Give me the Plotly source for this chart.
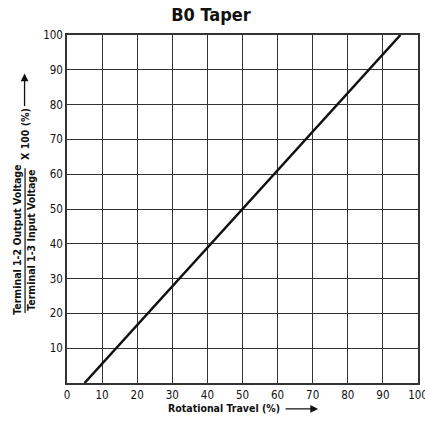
import plotly.graph_objects as go

# Data
travel = [5, 95]          # Rotational Travel (%)
output = [0, 100]         # Output ratio x 100 (%)
x_ticks = [0, 10, 20, 30, 40, 50, 60, 70, 80, 90, 100]
y_ticks = [10, 20, 30, 40, 50, 60, 70, 80, 90, 100]
title_text = "B0 Taper"
x_title = "Rotational Travel (%)"
y_num = "Terminal 1-2 Output Voltage"
y_den = "Terminal 1-3 Input Voltage"
y_mult = "X 100 (%)"

W, H = 425, 423
L, R, T, B = 66.5, 7, 34.5, 40
PW, PH = W - L - R, H - T - B

def px(x):
    return (x - L) / PW

def py(y):
    return (H - B - y) / PH

FONT = "DejaVu Sans Condensed, Liberation Sans Narrow, Arial Narrow, sans-serif"
GRID = "#333333"
INK = "#111111"

fig = go.Figure()
fig.add_trace(go.Scatter(x=travel, y=output, mode="lines",
                         line=dict(color=INK, width=2.5),
                         showlegend=False, hoverinfo="skip"))

axis_common = dict(range=[0, 100], showgrid=True, gridcolor=GRID, gridwidth=1.3,
                   showline=True, linecolor=GRID, linewidth=1.5, mirror=True,
                   ticks="", zeroline=False, automargin=False,
                   ticklabeloverflow="allow",
                   tickfont=dict(size=11.5, family=FONT, color=INK))

fig.update_layout(
    width=W, height=H,
    margin=dict(l=L, r=R, t=T, b=B, pad=0, autoexpand=False),
    paper_bgcolor="white", plot_bgcolor="white",
    font=dict(family=FONT, color=INK, size=12),
    title=dict(text="<b>" + title_text + "</b>", x=px(241), xanchor="center",
               y=1 - 15 / H, yanchor="middle",
               font=dict(family=FONT, size=18, color=INK)),
    xaxis=dict(tickvals=x_ticks, ticktext=[str(v) for v in x_ticks], **axis_common),
    yaxis=dict(tickvals=y_ticks, ticktext=[str(v) for v in y_ticks], **axis_common),
)

anns = []
# y-axis fraction
anns.append(dict(text="<b>" + y_num + "</b>", x=px(17), y=py(240), xref="paper", yref="paper",
                 textangle=-90, showarrow=False, xanchor="center", yanchor="middle",
                 font=dict(size=10.5, family=FONT, color=INK)))
anns.append(dict(text="<b>" + y_den + "</b>", x=px(31), y=py(240), xref="paper", yref="paper",
                 textangle=-90, showarrow=False, xanchor="center", yanchor="middle",
                 font=dict(size=10.5, family=FONT, color=INK)))
anns.append(dict(text="<b>" + y_mult + "</b>", x=px(25), y=py(134), xref="paper", yref="paper",
                 textangle=-90, showarrow=False, xanchor="center", yanchor="middle",
                 font=dict(size=10.5, family=FONT, color=INK)))
# y arrow
anns.append(dict(text="", x=px(24), y=py(73), xref="paper", yref="paper",
                 ax=0, ay=34, showarrow=True, arrowhead=2, arrowsize=1.2,
                 arrowwidth=1.3, arrowcolor=INK))
# x-axis title
anns.append(dict(text="<b>" + x_title + "</b>", x=px(282), y=py(408), xref="paper", yref="paper",
                 showarrow=False, xanchor="right", yanchor="middle",
                 font=dict(size=10.5, family=FONT, color=INK)))
anns.append(dict(text="", x=px(318), y=py(409), xref="paper", yref="paper",
                 ax=-34, ay=0, showarrow=True, arrowhead=2, arrowsize=1.2,
                 arrowwidth=1.3, arrowcolor=INK))
fig.update_layout(annotations=anns)

fig.add_shape(type="line", xref="paper", yref="paper",
              x0=px(24.5), x1=px(24.5), y0=py(168), y1=py(313),
              line=dict(color=INK, width=1.2))

fig.write_html("out.html", config={"displayModeBar": False},
               post_script="document.body.style.margin='0';")
